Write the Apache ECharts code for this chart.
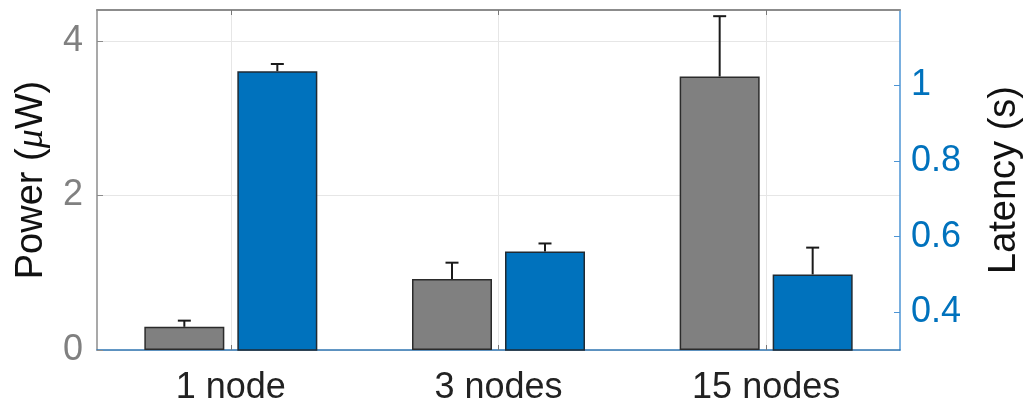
<!DOCTYPE html>
<html>
<head>
<meta charset="utf-8">
<script src="https://cdn.jsdelivr.net/npm/echarts@6/dist/echarts.min.js"></script>
<style>
  html, body { margin: 0; padding: 0; background: #fff; }
  #chart { width: 1032px; height: 414px; }
</style>
</head>
<body>
<div id="chart"></div>
<script>
// Network sizes on the x axis
const categories = ['1 node', '3 nodes', '15 nodes'];

// Mean power per configuration (μW) and its standard deviation
const powerMean = [0.30, 0.92, 3.54];
const powerErr = [0.08, 0.21, 0.78];

// Mean latency per configuration (s) and its standard deviation
const latencyMean = [1.038, 0.561, 0.500];
const latencyErr = [0.019, 0.021, 0.071];

// Axis ticks
const powerTicks = [0, 2, 4];
const latencyTicks = [0.4, 0.6, 0.8, 1];

const FONT = '"Liberation Sans", Arial, Helvetica, sans-serif';
const BAR_W = 80;
const BAR_GAP = 13;
const OFFSET = (BAR_W + BAR_GAP) / 2;
const GRAY = '#808080';
const BLUE = '#0072BD';

function errorSeries(name, means, errs, yIndex, dx) {
  return {
    name: name,
    type: 'custom',
    yAxisIndex: yIndex,
    z: 5,
    silent: true,
    data: means.map((m, i) => [i, m, m + errs[i]]),
    renderItem: function (params, api) {
      const base = api.coord([api.value(0), api.value(1)]);
      const top = api.coord([api.value(0), api.value(2)]);
      const x = base[0] + dx;
      const cap = 6.5;
      const style = { stroke: '#1a1a1a', lineWidth: 2, fill: null };
      return {
        type: 'group',
        children: [
          { type: 'line', shape: { x1: x, y1: base[1], x2: x, y2: top[1] }, style: style },
          { type: 'line', shape: { x1: x - cap, y1: top[1], x2: x + cap, y2: top[1] }, style: style }
        ]
      };
    }
  };
}

const chart = echarts.init(document.getElementById('chart'), null, { renderer: 'canvas' });

chart.setOption({
  backgroundColor: '#ffffff',
  animation: false,
  grid: { left: 97, right: 131, top: 10, bottom: 64 },
  xAxis: [
    {
      type: 'category',
      data: categories,
      position: 'bottom',
      axisLine: { onZero: false, lineStyle: { color: '#2f76b3', width: 1.5 } },
      axisTick: { show: true, inside: true, alignWithLabel: true, length: 5, lineStyle: { color: '#777', width: 1 } },
      axisLabel: { color: '#222', fontSize: 36, fontFamily: FONT, margin: 20 },
      splitLine: { show: true, alignWithLabel: true, lineStyle: { color: '#e6e6e6', width: 1 } }
    },
    {
      type: 'category',
      data: categories,
      position: 'top',
      axisLine: { onZero: false, lineStyle: { color: '#8c8c8c', width: 2 } },
      axisTick: { show: true, inside: true, alignWithLabel: true, length: 5, lineStyle: { color: '#777', width: 1 } },
      axisLabel: { show: false },
      splitLine: { show: false }
    }
  ],
  yAxis: [
    {
      type: 'value',
      min: 0,
      max: 4.4,
      interval: 2,
      position: 'left',
      name: 'Power ({i|μ}W)',
      nameLocation: 'middle',
      nameRotate: 90,
      nameGap: 46,
      nameTextStyle: {
        color: '#111', fontSize: 38, fontFamily: FONT,
        rich: { i: { fontStyle: 'italic', fontFamily: '"Liberation Serif", serif', fontSize: 38, color: '#111' } }
      },
      axisLine: { show: true, lineStyle: { color: '#8c8c8c', width: 1.5 } },
      axisTick: { show: true, inside: true, length: 6, customValues: powerTicks, lineStyle: { color: '#8c8c8c' } },
      axisLabel: { color: GRAY, fontSize: 36, fontFamily: FONT, margin: 14, customValues: powerTicks },
      splitLine: { show: true, lineStyle: { color: '#e6e6e6', width: 1 } }
    },
    {
      type: 'value',
      min: 0.3,
      max: 1.2,
      position: 'right',
      name: 'Latency (s)',
      nameLocation: 'middle',
      nameRotate: 90,
      nameGap: 86,
      nameTextStyle: { color: '#111', fontSize: 38, fontFamily: FONT },
      axisLine: { show: true, lineStyle: { color: '#4c94d4', width: 1.5 } },
      axisTick: { show: true, inside: true, length: 6, customValues: latencyTicks, lineStyle: { color: '#4c94d4' } },
      axisLabel: { color: BLUE, fontSize: 36, fontFamily: FONT, margin: 11, customValues: latencyTicks },
      splitLine: { show: false }
    }
  ],
  series: [
    {
      name: 'Power',
      type: 'bar',
      xAxisIndex: 0,
      yAxisIndex: 0,
      data: powerMean,
      barWidth: BAR_W,
      barGap: (BAR_GAP / BAR_W * 100) + '%',
      itemStyle: { color: GRAY, borderColor: '#2b2b2b', borderWidth: 1.5 }
    },
    {
      name: 'Latency',
      type: 'bar',
      xAxisIndex: 0,
      yAxisIndex: 1,
      data: latencyMean,
      barWidth: BAR_W,
      barGap: (BAR_GAP / BAR_W * 100) + '%',
      itemStyle: { color: BLUE, borderColor: '#1f2a33', borderWidth: 1.5 }
    },
    errorSeries('Power error', powerMean, powerErr, 0, -OFFSET),
    errorSeries('Latency error', latencyMean, latencyErr, 1, OFFSET)
  ]
});
</script>
</body>
</html>
